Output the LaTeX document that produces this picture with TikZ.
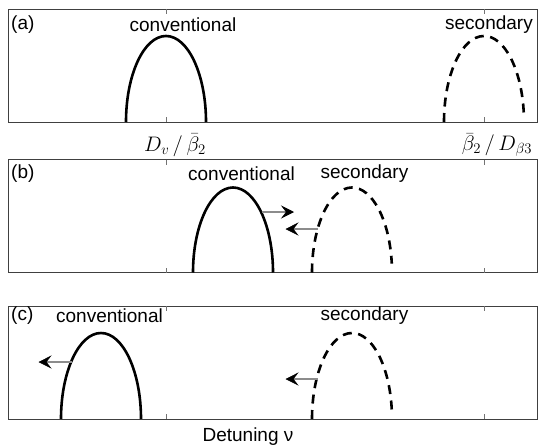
\RequirePackage{fix-cm}
\documentclass[tikz,border=0pt]{standalone}
\usepackage[no-math]{fontspec}
\setmainfont{Liberation Sans}
\usepackage{amsmath}
\usetikzlibrary{arrows.meta}

\begin{document}
\begin{tikzpicture}[x=1pt, y=-1pt,
    panel/.style={draw=black!75, line width=0.9pt},
    tickmark/.style={draw=black!55, line width=0.7pt},
    lbl/.style={font=\fontsize{19}{22}\selectfont, inner sep=0pt},
    tag/.style={lbl, anchor=west},
    mlbl/.style={font=\fontsize{21}{24}\selectfont, inner sep=0pt},
    band/.style={line width=2.6pt},
    sband/.style={band, dash pattern=on 9pt off 6.5pt},
    shiftarr/.style={draw=black!45, line width=1.1pt, -{Stealth[length=13pt, width=13pt, inset=5pt, color=black, line width=0.6pt]}}]
  \useasboundingbox (0,0) rectangle (538,447);

  % three panels with ticks at the two resonances
  \foreach \ytop in {9, 159.5, 306} {
    \draw[panel] (8,\ytop) rectangle (537,\ytop+113);
    \foreach \xt in {166.5, 484.5} {
      \draw[tickmark] (\xt,\ytop) -- ++(0,5);
      \draw[tickmark] (\xt,\ytop+113) -- ++(0,-5);
    }
  }

  % (a)
  \node[tag] (taga) at (11,25) {(a)};
  \draw[band]  (126,122) arc[start angle=180, end angle=0, x radius=40pt, y radius=86pt];
  \draw[sband] (444,122) arc[start angle=180, end angle=6, x radius=40pt, y radius=86pt];
  \node[lbl] (conva) at (183,25) {conventional};
  \node[lbl] (seca)  at (489,25) {secondary};
  \node[mlbl] (resa) at (175,145) {$D_v\,/\,\bar{\beta}_2$};
  \node[mlbl] (resb) at (497,145) {$\bar{\beta}_2\,/\,D_{\beta3}$};

  % (b)
  \node[tag] (tagb) at (11,174) {(b)};
  \draw[band]  (193,272.5) arc[start angle=180, end angle=0, x radius=40pt, y radius=85pt];
  \draw[sband] (312,272.5) arc[start angle=180, end angle=6, x radius=40pt, y radius=85pt];
  \node[lbl] (convb) at (241.5,174) {conventional};
  \node[lbl] (secb)  at (364.5,174) {secondary};
  \coordinate (pushb)  at (261.5,212);
  \coordinate (pushbe) at (294,212);
  \coordinate (pullb)  at (317.5,229);
  \coordinate (pullbe) at (285.5,229);
  \draw[shiftarr] (pushb) -- (pushbe);
  \draw[shiftarr] (pullb) -- (pullbe);

  % (c)
  \node[tag] (tagc) at (11,316) {(c)};
  \draw[band]  (61,419) arc[start angle=180, end angle=0, x radius=40pt, y radius=86pt];
  \draw[sband] (312,419) arc[start angle=180, end angle=6, x radius=40pt, y radius=86pt];
  \node[lbl] (convc) at (109.5,316) {conventional};
  \node[lbl] (secc)  at (364.5,316) {secondary};
  \coordinate (pushc)  at (71.5,362);
  \coordinate (pushce) at (38.5,362);
  \coordinate (pullc)  at (317.5,379);
  \coordinate (pullce) at (285.5,379);
  \draw[shiftarr] (pushc) -- (pushce);
  \draw[shiftarr] (pullc) -- (pullce);

  \node[lbl] (xlab) at (248,437) {Detuning ν};
\end{tikzpicture}
\end{document}
